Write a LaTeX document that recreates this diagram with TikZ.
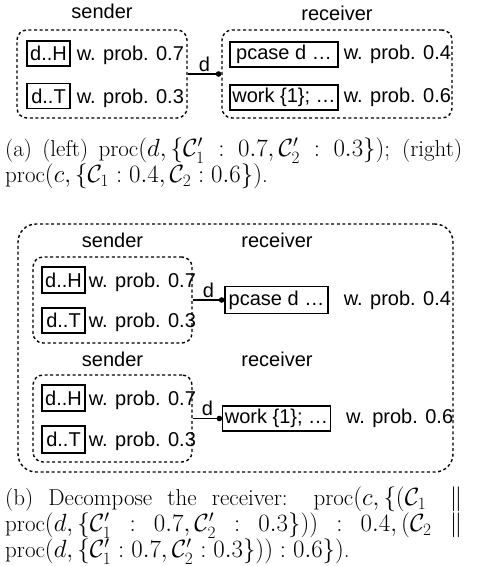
\documentclass[tikz,border=0pt]{standalone}
\usepackage{fontspec}
\setsansfont{Liberation Sans}
\usetikzlibrary{positioning, arrows.meta}
\newcommand{\diagfont}{\fontsize{20}{24}\selectfont\sffamily}
\tikzset{
  grp/.style={draw, line width=1.4pt, dash pattern=on 3pt off 2.6pt, rounded corners=#1},
  grp/.default=10pt,
  cbox/.style={draw, line width=1.3pt, font=\diagfont, inner sep=2pt,
    minimum width=#1, minimum height=25pt},
  cbox/.default=43pt,
  prob/.style={font=\diagfont, inner sep=0pt},
  ttl/.style={font=\diagfont, inner sep=0pt, anchor=base},
  msg/.style={line width=1.3pt, -{Circle[length=5.5pt]}},
  captxt/.style={anchor=north west, inner sep=0pt, text width=457pt, align=justify,
    font=\fontsize{23}{26}\selectfont},
}

\begin{document}
\begin{tikzpicture}[x=1pt, y=-1pt]
\useasboundingbox (0,0) rectangle (480,566);

% ── (a) sender and receiver ─────────────────────────────────
\node[grp, minimum width=170pt, minimum height=88pt] (sndA) at (102,74) {};
\node[grp, minimum width=230pt, minimum height=88pt] (rcvA) at (337,74) {};

\node[cbox] (hdA) at (48.5,53.5) {d..H};
\node[prob, base right=6pt of hdA] (phA) {w. prob. 0.7};
\node[cbox] (tlA) at (48.5,96) {d..T};
\node[prob, base right=6pt of tlA] (ptA) {w. prob. 0.3};

\node[cbox=108pt] (pcA) at (284,54.5) {pcase d \ldots};
\node[prob, base right=5pt of pcA] (p4A) {w. prob. 0.4};
\node[cbox=108pt] (wkA) at (284,97.5) {work \{1\}; \ldots};
\node[prob, base right=5pt of wkA] (p6A) {w. prob. 0.6};

\draw[msg] (sndA) -- (rcvA) node[midway, above, inner sep=2pt, font=\diagfont] (dA) {d};

\node[captxt] (capA) at (5,138) {(a) (left) $\mathrm{proc}(d, \{\mathcal{C}_1' : 0.7, \mathcal{C}_2' : 0.3\})$; (right)\linebreak
  $\mathrm{proc}(c, \{\mathcal{C}_1 : 0.4, \mathcal{C}_2 : 0.6\})$.};

% ── (b) decomposed receiver ─────────────────────────────────
\node[grp=18pt, minimum width=435pt, minimum height=248pt] (outB) at (235.5,348) {};

\node[grp, minimum width=159pt, minimum height=86pt] (snd1) at (112.5,300) {};
\node[cbox, minimum height=26pt] (hd1) at (63.5,280) {d..H};
\node[prob, base right=3pt of hd1] (ph1) {w. prob. 0.7};
\node[cbox] (tl1) at (63.5,320.5) {d..T};
\node[prob, base right=3pt of tl1] (pt1) {w. prob. 0.3};
\node[cbox=103pt, minimum height=27pt] (pcB) at (276.5,300) {pcase d \ldots};
\node[prob, base right=15pt of pcB] (p4B) {w. prob. 0.4};
\draw[msg] (snd1) -- (pcB) node[midway, above, inner sep=2pt, font=\diagfont] (d1) {d};

\node[grp, minimum width=159pt, minimum height=87pt] (snd2) at (112.5,418.5) {};
\node[cbox, minimum height=26pt] (hd2) at (63.5,398) {d..H};
\node[prob, base right=3pt of hd2] (ph2) {w. prob. 0.7};
\node[cbox, minimum height=27pt] (tl2) at (63.5,439.5) {d..T};
\node[prob, base right=3pt of tl2] (pt2) {w. prob. 0.3};
\node[cbox=103pt] (wkB) at (276.5,418.5) {work \{1\}; \ldots};
\node[prob, base right=15pt of wkB] (p6B) {w. prob. 0.6};
\draw[msg] (snd2) -- (wkB) node[midway, above, inner sep=2pt, font=\diagfont] (d2) {d};

\foreach \n/\x/\y/\t in {tSa/102/18.5/sender, tRa/337/20.5/receiver,
    tS1/112.5/247/sender, tR1/277/247/receiver, tS2/112.5/366/sender, tR2/277/366/receiver}
  \node[ttl] (\n) at (\x,\y) {\t};

\node[captxt] (capB) at (5,487) {(b) Decompose the receiver: $\mathrm{proc}(c, \{(\mathcal{C}_1 \parallel$\linebreak
  $\mathrm{proc}(d, \{\mathcal{C}_1' : 0.7, \mathcal{C}_2' : 0.3\})) : 0.4, (\mathcal{C}_2 \parallel$\linebreak
  $\mathrm{proc}(d, \{\mathcal{C}_1' : 0.7, \mathcal{C}_2' : 0.3\})) : 0.6\})$.};
\end{tikzpicture}
\end{document}
